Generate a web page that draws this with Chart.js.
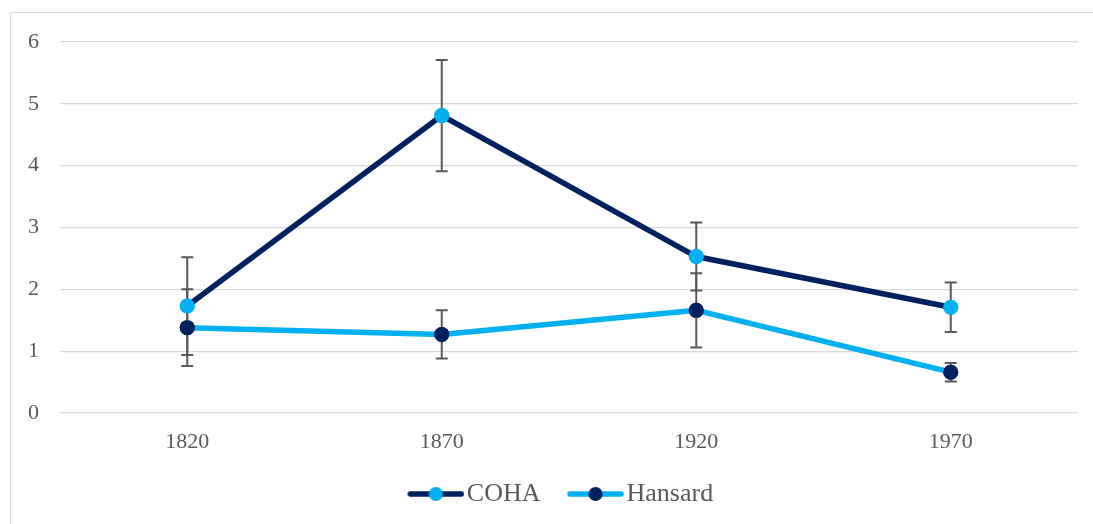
<!DOCTYPE html>
<html>
<head>
<meta charset="utf-8">
<script src="https://cdn.jsdelivr.net/npm/chart.js@4.4.1/dist/chart.umd.min.js"></script>
<style>
  html, body { margin: 0; padding: 0; background: #ffffff; overflow: hidden; }
  #wrap { position: relative; width: 1093px; height: 524px; }
  #frame { position: absolute; left: 10px; top: 12px; width: 1200px; height: 600px; border: 1.5px solid #d9d9d9; box-sizing: border-box; }
  canvas { position: absolute; left: 0; top: 0; }
</style>
</head>
<body>
<div id="wrap">
  <div id="frame"></div>
  <canvas id="c" width="1093" height="524"></canvas>
</div>
<script>
const years = ['1820', '1870', '1920', '1970'];
const cohaMean = [1.73, 4.81, 2.53, 1.71];
const cohaErr = [0.79, 0.90, 0.55, 0.40];
const hansardMean = [1.38, 1.27, 1.66, 0.66];
const hansardErr = [0.62, 0.39, 0.60, 0.15];
const yTicks = [0, 1, 2, 3, 4, 5, 6];

const NAVY = '#002060';
const LIGHT = '#00B0F0';
const TEXT = '#595959';
const FONT = '"Liberation Serif", "Times New Roman", serif';

function legendImage(lineColor, dotColor) {
  const cv = document.createElement('canvas');
  cv.width = 84; cv.height = 18;
  const g = cv.getContext('2d');
  g.strokeStyle = lineColor; g.lineWidth = 5.5; g.lineCap = 'round';
  g.beginPath(); g.moveTo(30, 9); g.lineTo(81, 9); g.stroke();
  g.fillStyle = dotColor;
  g.beginPath(); g.arc(55.5, 9, 7, 0, Math.PI * 2); g.fill();
  return cv;
}
const legendImgs = [legendImage(NAVY, LIGHT), legendImage(LIGHT, NAVY)];

const errorBars = {
  id: 'errorBars',
  afterDatasetsDraw(chart) {
    const errs = [cohaErr, hansardErr];
    const means = [cohaMean, hansardMean];
    const xs = chart.scales.x, ys = chart.scales.y;
    const ctx = chart.ctx;
    ctx.save();
    ctx.strokeStyle = '#595959';
    ctx.lineWidth = 2;
    for (let d = 0; d < 2; d++) {
      for (let i = 0; i < years.length; i++) {
        const x = xs.getPixelForValue(i);
        const yt = ys.getPixelForValue(means[d][i] + errs[d][i]);
        const yb = ys.getPixelForValue(means[d][i] - errs[d][i]);
        ctx.beginPath();
        ctx.moveTo(x, yt); ctx.lineTo(x, yb);
        ctx.moveTo(x - 6, yt); ctx.lineTo(x + 6, yt);
        ctx.moveTo(x - 6, yb); ctx.lineTo(x + 6, yb);
        ctx.stroke();
      }
    }
    ctx.restore();
    chart.getSortedVisibleDatasetMetas().forEach(meta => {
      meta.data.forEach(pt => pt.draw(ctx, chart.chartArea));
    });
  }
};

new Chart(document.getElementById('c'), {
  type: 'line',
  data: {
    labels: years,
    datasets: [
      {
        label: 'COHA', data: cohaMean,
        borderColor: NAVY, borderWidth: 5.5,
        pointBackgroundColor: LIGHT, pointBorderColor: LIGHT,
        pointRadius: 7.5, pointBorderWidth: 0, pointStyle: 'circle',
        tension: 0
      },
      {
        label: 'Hansard', data: hansardMean,
        borderColor: LIGHT, borderWidth: 5.5,
        pointBackgroundColor: NAVY, pointBorderColor: NAVY,
        pointRadius: 7.5, pointBorderWidth: 0, pointStyle: 'circle',
        tension: 0
      }
    ]
  },
  options: {
    responsive: false,
    animation: false,
    events: [],
    layout: { padding: { top: 42, right: 15, bottom: 7, left: 26 } },
    scales: {
      x: {
        offset: true,
        grid: { display: false, drawTicks: false },
        border: { display: false },
        ticks: { color: TEXT, font: { family: FONT, size: 22 }, padding: 16 },
        afterFit(s) { s.height = 58; }
      },
      y: {
        min: 0, max: 6,
        afterBuildTicks(s) { s.ticks = yTicks.map(v => ({ value: v })); },
        grid: { color: '#d9d9d9', lineWidth: 1.3, drawTicks: false },
        border: { display: false },
        ticks: { color: TEXT, font: { family: FONT, size: 22 }, padding: 21 },
        afterFit(s) { s.width = 34; }
      }
    },
    plugins: {
      tooltip: { enabled: false },
      legend: {
        position: 'bottom',
        labels: {
          color: TEXT,
          font: { family: FONT, size: 26 },
          usePointStyle: true,
          pointStyleWidth: 63,
          padding: 10,
          generateLabels(chart) {
            const items = Chart.defaults.plugins.legend.labels.generateLabels(chart);
            items.forEach((it, i) => { it.pointStyle = legendImgs[i]; });
            return items;
          }
        }
      }
    }
  },
  plugins: [errorBars]
});
</script>
</body>
</html>
